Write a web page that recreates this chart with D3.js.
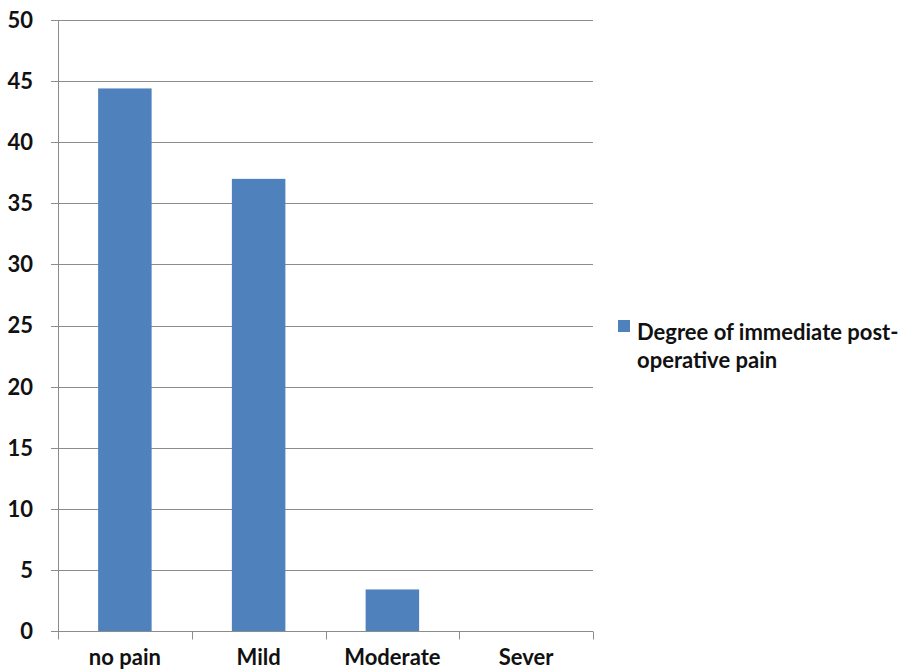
<!DOCTYPE html>
<html>
<head>
<meta charset="utf-8">
<script src="https://cdn.jsdelivr.net/npm/d3@7"></script>
<style>
  body { margin: 0; background: #fff; }
  svg { display: block; }
</style>
</head>
<body>
<div id="chart"></div>
<script>
// chart data
const categories = ["no pain", "Mild", "Moderate", "Sever"];
const values = [44.4, 37, 3.4, 0];
const yTicks = [0, 5, 10, 15, 20, 25, 30, 35, 40, 45, 50];
const seriesName = ["Degree of immediate post-", "operative pain"];

const width = 905, height = 671;
const margin = { top: 20, left: 58, right: 312, bottom: 40 };
const plotW = width - margin.left - margin.right;
const plotH = height - margin.top - margin.bottom;
const font = "Lato, 'Open Sans', sans-serif";
const fontSize = 22;
const gridColor = "#8c8c8c";
const barColor = "#4f81bd";

const svg = d3.select("#chart").append("svg")
    .attr("width", width)
    .attr("height", height)
    .attr("font-family", font);

const chart = svg.append("g")
    .attr("transform", "translate(" + margin.left + "," + margin.top + ")");

const x = d3.scaleBand()
    .domain(categories)
    .range([0, plotW])
    .paddingInner(0.6)
    .paddingOuter(0.3);

const y = d3.scaleLinear()
    .domain([0, 50])
    .range([plotH, 0]);

// horizontal gridlines + y ticks
chart.selectAll(".grid")
    .data(yTicks.filter(d => d > 0))
    .enter().append("line")
    .attr("class", "grid")
    .attr("x1", -7)
    .attr("x2", plotW)
    .attr("y1", d => Math.round(y(d)) + 0.5)
    .attr("y2", d => Math.round(y(d)) + 0.5)
    .attr("stroke", gridColor)
    .attr("stroke-width", 1);

chart.selectAll(".ylabel")
    .data(yTicks)
    .enter().append("text")
    .attr("class", "ylabel")
    .attr("x", -25)
    .attr("y", d => y(d))
    .attr("dy", "0.36em")
    .attr("text-anchor", "end")
    .attr("font-size", fontSize)
    .attr("font-weight", "bold")
    .attr("fill", "#111")
    .text(d => d);

// bars
chart.selectAll(".bar")
    .data(values)
    .enter().append("rect")
    .attr("class", "bar")
    .attr("x", (d, i) => x(categories[i]))
    .attr("y", d => y(d))
    .attr("width", x.bandwidth())
    .attr("height", d => plotH - y(d))
    .attr("fill", barColor);

// y axis line
chart.append("line")
    .attr("x1", 0.5).attr("x2", 0.5)
    .attr("y1", 0).attr("y2", plotH)
    .attr("stroke", gridColor);

// x axis line, ticks, labels
const xAxis = d3.axisBottom(x).tickSize(0).tickPadding(18);
const gx = chart.append("g")
    .attr("transform", "translate(0," + (Math.round(plotH) + 0.5) + ")")
    .call(xAxis);
gx.select(".domain").remove();
gx.selectAll("text")
    .attr("font-size", fontSize)
    .attr("font-weight", "bold")
    .attr("font-family", font)
    .attr("fill", "#111");

gx.append("line")
    .attr("x1", -7).attr("x2", plotW)
    .attr("stroke", gridColor);

const step = x.step();
gx.selectAll(".xtick")
    .data(d3.range(categories.length + 1))
    .enter().append("line")
    .attr("class", "xtick")
    .attr("x1", d => Math.round(d * step) + 0.5)
    .attr("x2", d => Math.round(d * step) + 0.5)
    .attr("y1", 0)
    .attr("y2", 8)
    .attr("stroke", gridColor);

// legend
const legend = svg.append("g")
    .attr("transform", "translate(618,320)");
legend.append("rect")
    .attr("width", 12)
    .attr("height", 12)
    .attr("fill", barColor);
legend.selectAll("text")
    .data(seriesName)
    .enter().append("text")
    .attr("x", 19)
    .attr("y", (d, i) => 20 + i * 28)
    .attr("font-size", fontSize)
    .attr("font-weight", "bold")
    .attr("fill", "#111")
    .text(d => d);
</script>
</body>
</html>
